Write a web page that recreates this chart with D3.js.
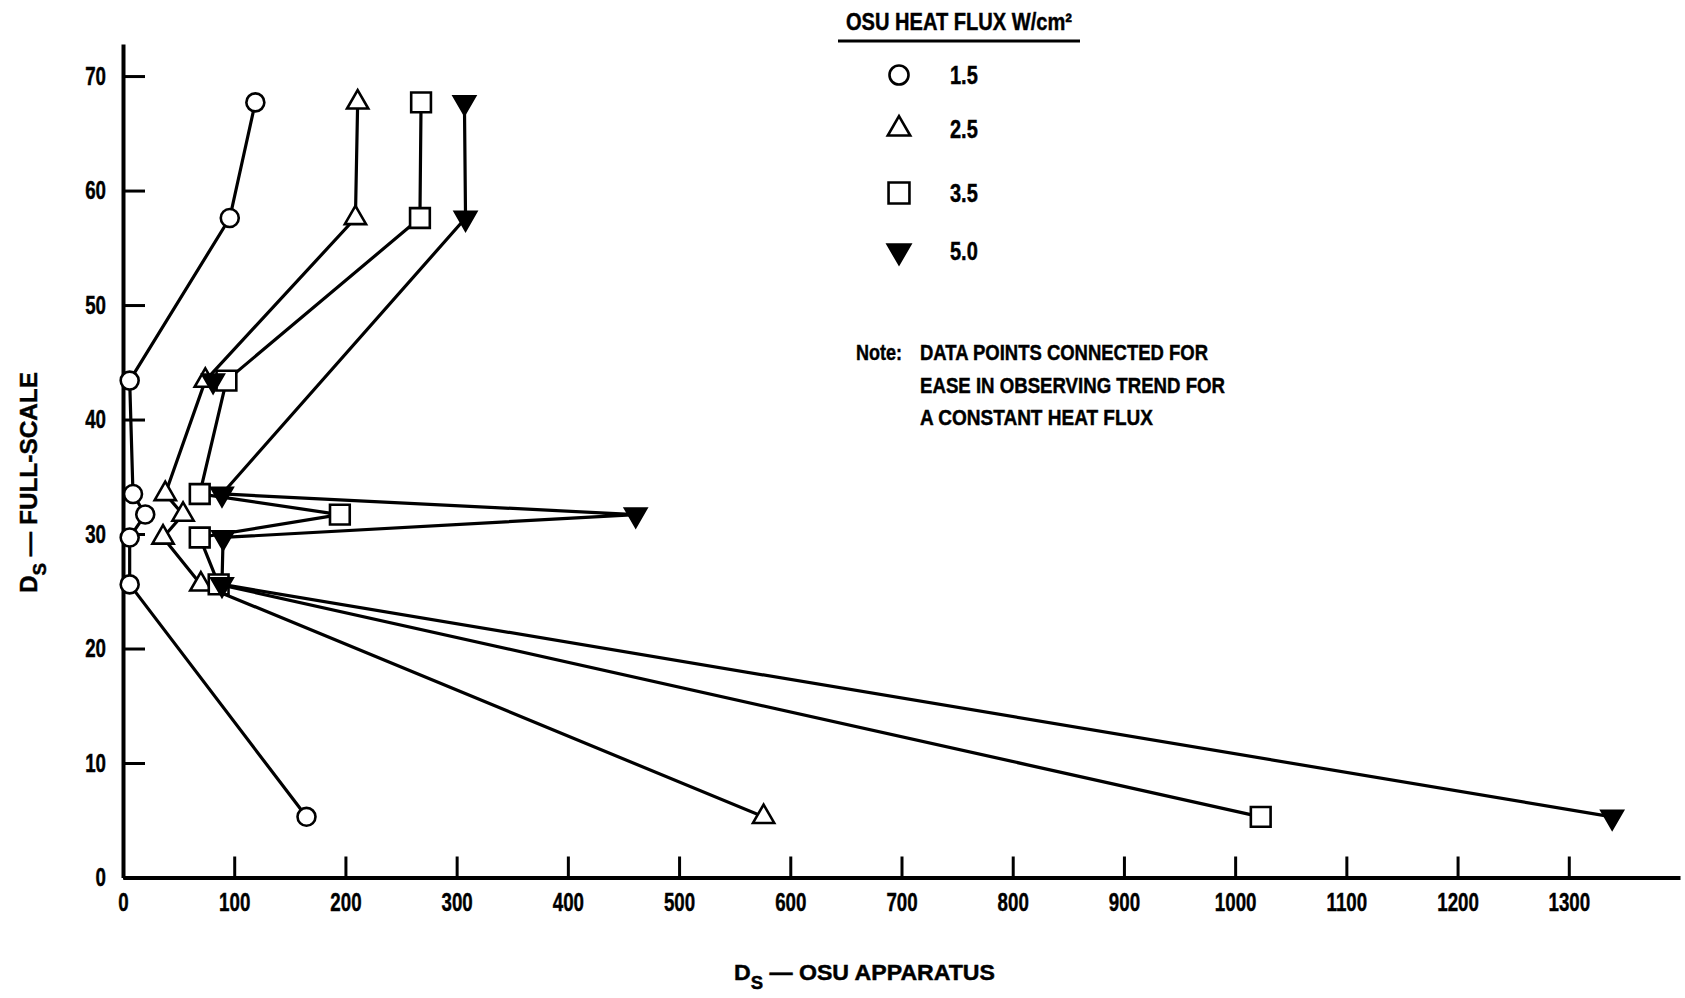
<!DOCTYPE html>
<html>
<head>
<meta charset="utf-8">
<script src="https://cdn.jsdelivr.net/npm/d3@7"></script>
<style>
  body { margin: 0; background: #fff; }
  svg text { font-family: "Liberation Sans", Arial, sans-serif; font-weight: bold; fill: #000; stroke: #000; stroke-width: 0.45px; }
</style>
</head>
<body>
<div id="chart"></div>
<script>
/**
 * CONSTANTS AND GLOBALS
 * */
const width = 1685,
  height = 998;

/**
 * DATA
 * full-scale Ds for the 8 materials, and the OSU apparatus Ds at each heat flux
 * */
const fullScaleDs = [67.7, 57.6, 43.4, 33.5, 31.7, 29.7, 25.6, 5.3];
const osuFlux15 = [119, 96, 6, 9, 20, 6, 6, 165];
const osuFlux25 = [211, 209, 74, 38, 54, 36, 70, 576];
const osuFlux35 = [268, 267, 93, 69, 195, 69, 86, 1023];
const osuFlux50 = [307, 308, 81, 89, 461, 90, 89, 1339];
// the 5.0 line in the original runs straight from 57.6 to 33.5
const osuFlux50Joined = [true, true, false, true, true, true, true, true];

const fluxLabels = ["1.5", "2.5", "3.5", "5.0"];
const xTicks = [0, 100, 200, 300, 400, 500, 600, 700, 800, 900, 1000, 1100, 1200, 1300];
const yTicks = [0, 10, 20, 30, 40, 50, 60, 70];
const noteLines = [
  "DATA POINTS CONNECTED FOR",
  "EASE IN OBSERVING TREND FOR",
  "A CONSTANT HEAT FLUX"
];

let svg;

init();

// squeeze text horizontally (the original uses a condensed face)
function squeeze(sel, sx, origin) {
  sel.style("transform-box", "fill-box")
    .style("transform-origin", origin)
    .style("transform", `scaleX(${sx})`);
}

function init() {
  svg = d3.select("#chart")
    .append("svg")
    .attr("width", width)
    .attr("height", height);

  /**********/
  /* SCALES */
  /**********/
  const x = d3.scaleLinear().domain([0, 1400]).range([123, 1680]);
  const y = d3.scaleLinear().domain([0, 72.8]).range([877.5, 44]);

  const series = [
    { label: fluxLabels[0], xs: osuFlux15, joined: osuFlux15.map(() => true), shape: "circle" },
    { label: fluxLabels[1], xs: osuFlux25, joined: osuFlux25.map(() => true), shape: "up" },
    { label: fluxLabels[2], xs: osuFlux35, joined: osuFlux35.map(() => true), shape: "square" },
    { label: fluxLabels[3], xs: osuFlux50, joined: osuFlux50Joined, shape: "down" }
  ];

  const symbolFor = (shape, big) => {
    const k = big ? 1.12 : 1;
    if (shape === "circle") return d3.symbol(d3.symbolCircle, 254 * k)();
    if (shape === "square") return d3.symbol(d3.symbolSquare, 390 * k)();
    return d3.symbol(d3.symbolTriangle, 195 * k)();
  };

  /*********/
  /* AXES  */
  /*********/
  const xAxis = svg.append("g")
    .attr("transform", `translate(0,${y(0)})`)
    .call(d3.axisBottom(x).tickValues(xTicks).tickFormat(d3.format("d"))
      .tickSizeInner(-21).tickSizeOuter(0).tickPadding(15));

  const yAxis = svg.append("g")
    .attr("transform", `translate(${x(0)},0)`)
    .call(d3.axisLeft(y).tickValues(yTicks).tickFormat(d3.format("d"))
      .tickSizeInner(-22).tickSizeOuter(0).tickPadding(17));

  [xAxis, yAxis].forEach(g => {
    g.attr("font-family", null).attr("font-size", null);
    g.select(".domain").attr("stroke", "#000").attr("stroke-width", 4);
    g.selectAll(".tick line").attr("stroke", "#000").attr("stroke-width", 3);
    g.selectAll(".tick text").style("font-size", "26px");
  });
  squeeze(xAxis.selectAll(".tick text"), 0.72, "center");
  squeeze(yAxis.selectAll(".tick text"), 0.72, "right center");

  /**********/
  /* LINES  */
  /**********/
  const lineGen = d3.line()
    .x(d => x(d.v))
    .y(d => y(d.fs));

  series.forEach(s => {
    const pts = s.xs.map((v, i) => ({ v: v, fs: fullScaleDs[i], joined: s.joined[i] }));
    s.points = pts;
    svg.append("path")
      .datum(pts.filter(d => d.joined))
      .attr("d", lineGen)
      .attr("fill", "none")
      .attr("stroke", "#000")
      .attr("stroke-width", 3.2)
      .attr("stroke-linejoin", "round");
  });

  /***********/
  /* MARKERS */
  /***********/
  series.forEach(s => {
    svg.append("g")
      .selectAll("path")
      .data(s.points)
      .join("path")
      .attr("d", symbolFor(s.shape, false))
      .attr("transform", d => `translate(${x(d.v)},${y(d.fs)})` + (s.shape === "down" ? " rotate(180)" : ""))
      .attr("fill", s.shape === "down" ? "#000" : "#fff")
      .attr("stroke", "#000")
      .attr("stroke-width", 2.6);
  });

  /***************/
  /* AXIS TITLES */
  /***************/
  const xTitle = svg.append("text")
    .attr("x", 734)
    .attr("y", 980)
    .attr("textLength", 261)
    .attr("lengthAdjust", "spacingAndGlyphs")
    .style("font-size", "22.5px");
  xTitle.append("tspan").text("D");
  xTitle.append("tspan").attr("dy", 9).style("font-size", "18px").text("S");
  xTitle.append("tspan").attr("dy", -9).text("  \u2014  OSU APPARATUS");

  const yTitle = svg.append("text")
    .attr("transform", "translate(37,593) rotate(-90)")
    .attr("textLength", 221)
    .attr("lengthAdjust", "spacingAndGlyphs")
    .style("font-size", "23.5px");
  yTitle.append("tspan").text("D");
  yTitle.append("tspan").attr("dy", 9).style("font-size", "18px").text("S");
  yTitle.append("tspan").attr("dy", -9).text("  \u2014  FULL-SCALE");

  /**********/
  /* LEGEND */
  /**********/
  const legend = svg.append("g");
  legend.append("text")
    .attr("x", 846)
    .attr("y", 30)
    .attr("textLength", 226)
    .attr("lengthAdjust", "spacingAndGlyphs")
    .style("font-size", "24px")
    .text("OSU HEAT FLUX W/cm\u00B2");

  legend.append("line")
    .attr("x1", 838).attr("x2", 1080)
    .attr("y1", 41).attr("y2", 41)
    .attr("stroke", "#000")
    .attr("stroke-width", 3);

  const legendRowY = [75, 129, 193, 251];
  const rows = legend.selectAll("g.row")
    .data(series)
    .join("g")
    .attr("class", "row")
    .attr("transform", (d, i) => `translate(0,${legendRowY[i]})`);

  rows.append("path")
    .attr("d", d => symbolFor(d.shape, true))
    .attr("transform", d => "translate(899,0)" + (d.shape === "down" ? " rotate(180)" : ""))
    .attr("fill", d => d.shape === "down" ? "#000" : "#fff")
    .attr("stroke", "#000")
    .attr("stroke-width", 2.6);

  const legText = rows.append("text")
    .attr("x", 950)
    .attr("dy", "0.36em")
    .style("font-size", "25px")
    .text(d => d.label);
  squeeze(legText, 0.8, "left center");

  /********/
  /* NOTE */
  /********/
  const noteWidths = [288, 305, 233];
  const note = svg.append("g").style("font-size", "22.5px");
  note.append("text")
    .attr("x", 856)
    .attr("y", 360)
    .attr("textLength", 46)
    .attr("lengthAdjust", "spacingAndGlyphs")
    .text("Note:");
  note.selectAll("text.line")
    .data(noteLines)
    .join("text")
    .attr("class", "line")
    .attr("x", 920)
    .attr("y", (d, i) => 360 + i * 32.5)
    .attr("textLength", (d, i) => noteWidths[i])
    .attr("lengthAdjust", "spacingAndGlyphs")
    .text(d => d);
}
</script>
</body>
</html>
